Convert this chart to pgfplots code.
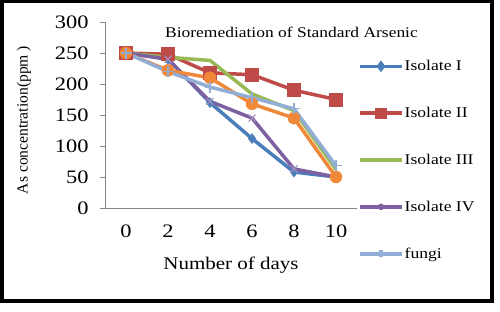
\documentclass[border=0pt]{standalone}
\usepackage{pgfplots}
\pgfplotsset{compat=1.18}
\usepackage{fontspec}
\setmainfont{Liberation Serif}[FakeStretch=1.18]
\newfontfamily\plainserif{Liberation Serif}
\definecolor{cI}{HTML}{4A7EBB}
\definecolor{cII}{HTML}{BE4B48}
\definecolor{cIII}{HTML}{98B954}
\definecolor{cIV}{HTML}{7D60A0}
\definecolor{cOr}{HTML}{F0883A}
\definecolor{cF}{HTML}{93AED6}
\definecolor{axgray}{HTML}{868686}
\begin{document}
\begin{tikzpicture}[x=1pt,y=1pt]
\useasboundingbox (0,0) rectangle (500,311);
\draw[line width=3.5pt] (2,10) rectangle (492,309.5);
\begin{axis}[
  at={(105pt,103pt)}, anchor=south west,
  scale only axis, width=252pt, height=186pt,
  xmin=-1, xmax=11, ymin=0, ymax=300,
  xtick={0,2,4,6,8,10}, ytick={0,50,100,150,200,250,300},
  axis x line*=bottom, axis y line*=left,
  axis line style={axgray, line width=0.9pt, -},
  x axis line style={-}, y axis line style={-},
  tick style={axgray, line width=0.9pt},
  xtick style={draw=none},
  ytick pos=left, tick align=outside, major tick length=5pt,
  /pgf/number format/assume math mode=true,
  ticklabel style={font=\fontsize{19}{19}\selectfont},
  xticklabel style={yshift=-8pt},
  yticklabel style={xshift=-8pt},
  xlabel={Number of days},
  xlabel style={font=\fontsize{17.8}{17.8}\selectfont, at={(axis description cs:0.5,-0.306)}, anchor=center},
  ylabel={As concentration(ppm )},
  ylabel style={font=\plainserif\fontsize{15.6}{15.6}\selectfont, at={(axis description cs:-0.322,0.473)}, anchor=center},
  clip=false,
  legend style={at={(1.004,0.80)}, anchor=north west, draw=none, fill=none,
    font=\fontsize{14.9}{14.9}\selectfont, row sep=33pt, inner sep=0pt,
    nodes={inner sep=1pt, anchor=west}},
  legend cell align=left,
  legend image code/.code={
    \draw[mark repeat=2, mark phase=2, #1, mark options={scale=0.6}] plot coordinates {(0pt,0pt) (21pt,0pt) (42pt,0pt)};
  },
  every axis plot/.append style={line width=3.5pt, mark options={solid}},
]
\addplot[cI, mark=diamond*, mark size=5pt, mark options={fill=cI, draw=cI, line width=0.5pt}]
  coordinates {(0,250) (2,240) (4,170) (6,112) (8,58) (10,50)};
\addlegendentry{Isolate I}
\addplot[cII, mark=square*, mark size=6.5pt, mark options={fill=cII, draw=cII, line width=0.5pt}]
  coordinates {(0,250) (2,248) (4,218) (6,215) (8,190) (10,175)};
\addlegendentry{Isolate II}
\addplot[cIII, no marks]
  coordinates {(0,250) (2,243) (4,238) (6,184) (8,157) (10,62)};
\addlegendentry{Isolate III}
\addplot[cIV, mark=x, mark size=5pt, mark options={draw=cIV!70, line width=1.2pt}]
  coordinates {(0,250) (2,240) (4,172) (6,145) (8,63) (10,50)};
\addlegendentry{Isolate IV}
\addplot[cOr, mark=*, mark size=6pt, mark options={fill=cOr, draw=cOr, line width=0.5pt}, forget plot]
  coordinates {(0,250) (2,222) (4,210) (6,168) (8,145) (10,50)};
\addplot[cF, mark=+, mark size=5.5pt, mark options={draw=cF, line width=1.2pt}]
  coordinates {(0,250) (2,220) (4,195) (6,178) (8,160) (10,68)};
\addlegendentry{fungi}
\node[font=\fontsize{14.8}{14.8}\selectfont] at (rel axis cs:0.74,0.946) {Bioremediation of Standard Arsenic};
\end{axis}
\end{tikzpicture}
\end{document}
